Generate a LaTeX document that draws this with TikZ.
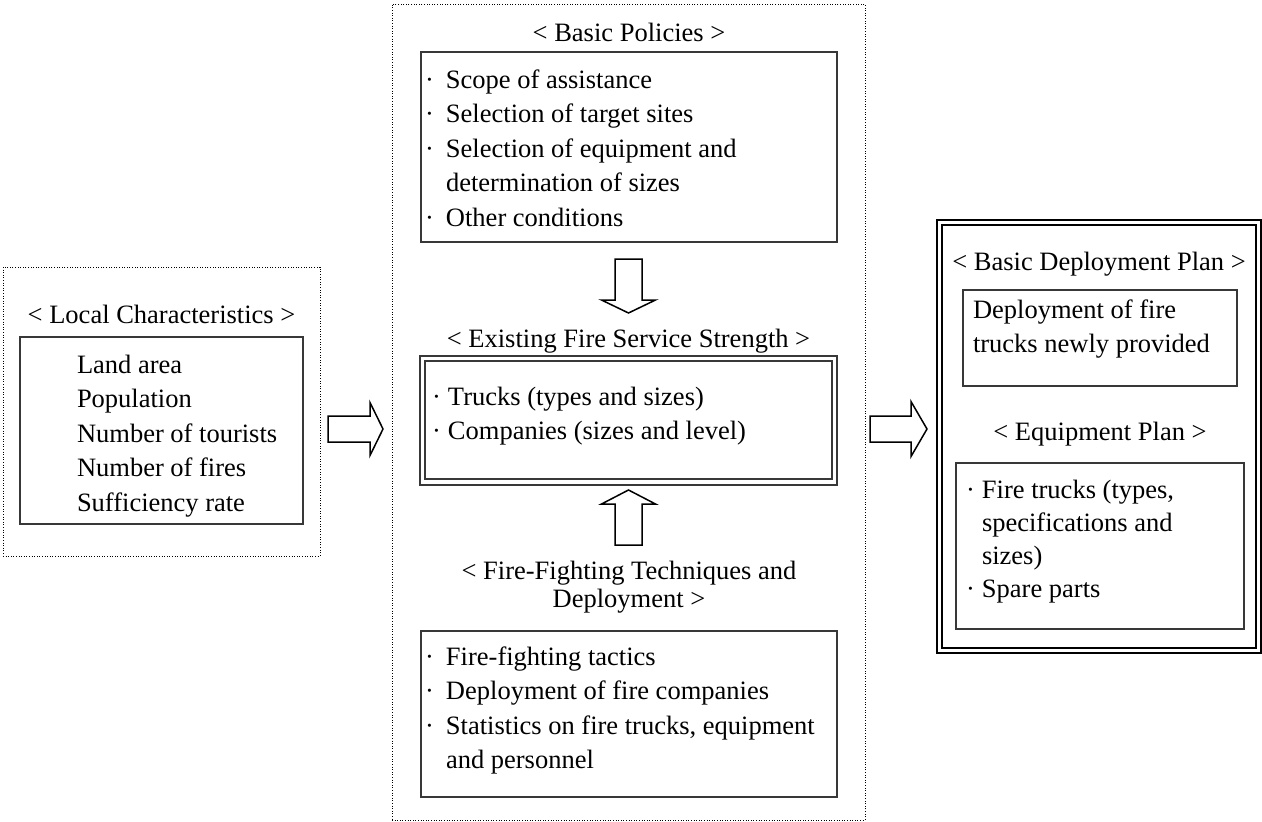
\documentclass[tikz,border=0pt]{standalone}
\usepackage{fontspec}
\setmainfont{Liberation Serif}
\usetikzlibrary{calc}
\newcommand\bulA{\strut\makebox[22pt][l]{\hspace{1pt}·}}
\newcommand\bulB{\strut\makebox[16pt][l]{·}}
\newcommand\indA{\strut\hspace*{22pt}}
\newcommand\indB{\strut\hspace*{16pt}}
\begin{document}
\begin{tikzpicture}[x=1pt,y=-1pt,
  every node/.style={inner sep=0pt, outer sep=0pt, font=\fontsize{26.5}{34.5}\selectfont},
  dotbox/.style={draw=black, line width=1pt, dash pattern=on 1pt off 1.6pt, anchor=north west},
  plainbox/.style={draw=black!78, line width=1.5pt, anchor=north west},
  heavybox/.style={draw=black, line width=2pt, anchor=north west},
  lbl/.style={anchor=base},
  lst/.style={anchor=north west, align=left},
  barrow/.style={draw=black, line width=1.5pt, fill=white, line join=miter},
]
\useasboundingbox (0,0) rectangle (1262,822);

% ---------------- left column ----------------
\node[dotbox, minimum width=317, minimum height=289] (lcout) at (3,267) {};
\node[lbl] (lclbl) at (161.5,323) {< Local Characteristics >};
\node[plainbox, minimum width=283, minimum height=187] (lcbox) at (20,337) {};
\node[lst] (lctxt) at (77,348.85) {\strut Land area\\\strut Population\\\strut Number of tourists\\\strut Number of fires\\\strut Sufficiency rate};

% ---------------- middle column ----------------
\node[dotbox, minimum width=473, minimum height=816] (midout) at (392,4) {};
\node[lbl] (bplbl) at (629,41) {< Basic Policies >};
\node[plainbox, minimum width=416, minimum height=190] (bpbox) at (421,52) {};
\node[lst] (bptxt) at (424,63.85) {\bulA Scope of assistance\\\bulA Selection of target sites\\\bulA Selection of equipment and\\\indA determination of sizes\\\bulA Other conditions};

\node[lbl] (exlbl) at (628.5,347) {< Existing Fire Service Strength >};
\node[plainbox, minimum width=417, minimum height=129] (exouter) at (420,356) {};
\node[plainbox, minimum width=407, minimum height=118] (exinner) at (425,361) {};
\node[lst] (extxt) at (432,380.85) {\bulB Trucks (types and sizes)\\\bulB Companies (sizes and level)};

\node[lbl, align=center, anchor=north, font=\fontsize{26.5}{28.5}\selectfont] (fflbl) at (629,559.05) {\strut < Fire-Fighting Techniques and\\\strut Deployment >};
\node[plainbox, minimum width=416, minimum height=166] (ffbox) at (421,631) {};
\node[lst] (fftxt) at (424,640.85) {\bulA Fire-fighting tactics\\\bulA Deployment of fire companies\\\bulA Statistics on fire trucks, equipment\\\indA and personnel};

% ---------------- right column ----------------
\node[heavybox, minimum width=324, minimum height=433] (rtouter) at (937,220) {};
\node[heavybox, minimum width=314, minimum height=423] (rtinner) at (942,225) {};
\node[lbl] (dplbl) at (1099,270) {< Basic Deployment Plan >};
\node[plainbox, minimum width=274, minimum height=96] (dpbox) at (963,290) {};
\node[lst] (dptxt) at (973,293.85) {\strut Deployment of fire\\\strut trucks newly provided};
\node[lbl] (eplbl) at (1100,440) {< Equipment Plan >};
\node[plainbox, minimum width=288, minimum height=166] (epbox) at (956,463) {};
\node[lst, font=\fontsize{26.5}{33}\selectfont] (eptxt) at (966,474.9) {\bulB Fire trucks (types,\\\indB specifications and\\\indB sizes)\\\bulB Spare parts};

% ---------------- block arrows ----------------
% left -> middle
\coordinate (a1s) at (lcout.east |- 0,429);
\coordinate (a1s) at ($(a1s)+(8,0)$);
\coordinate (a1e) at (383,429);
\draw[barrow] ($(a1s)+(0,-13)$) -- ($(a1e)+(-13,-13)$) -- ($(a1e)+(-13,-26.5)$) -- (a1e)
  -- ($(a1e)+(-13,26.5)$) -- ($(a1e)+(-13,13)$) -- ($(a1s)+(0,13)$) -- cycle;

% middle -> right
\coordinate (a2s) at (870,429);
\coordinate (a2e) at ($(rtouter.west |- 0,429)+(-10,0)$);
\draw[barrow] ($(a2s)+(0,-13)$) -- ($(a2e)+(-16,-13)$) -- ($(a2e)+(-16,-27.5)$) -- (a2e)
  -- ($(a2e)+(-16,27.5)$) -- ($(a2e)+(-16,13)$) -- ($(a2s)+(0,13)$) -- cycle;

% basic policies -> existing (down)
\coordinate (a3s) at ($(bpbox.south)+(-0.5,17)$);
\coordinate (a3e) at ($(exlbl.base)+(0,-34)$);
\draw[barrow] ($(a3s)+(-13.5,0)$) -- ($(a3e)+(-13.5,-13)$) -- ($(a3e)+(-27,-13)$) -- (a3e)
  -- ($(a3e)+(27,-13)$) -- ($(a3e)+(13.5,-13)$) -- ($(a3s)+(13.5,0)$) -- cycle;

% fire-fighting -> existing (up)
\coordinate (a4s) at (628.5,545);
\coordinate (a4e) at ($(exouter.south)+(0,5)$);
\draw[barrow] ($(a4s)+(-13.5,0)$) -- ($(a4e)+(-13.5,14)$) -- ($(a4e)+(-27,14)$) -- (a4e)
  -- ($(a4e)+(27,14)$) -- ($(a4e)+(13.5,14)$) -- ($(a4s)+(13.5,0)$) -- cycle;
\end{tikzpicture}
\end{document}
